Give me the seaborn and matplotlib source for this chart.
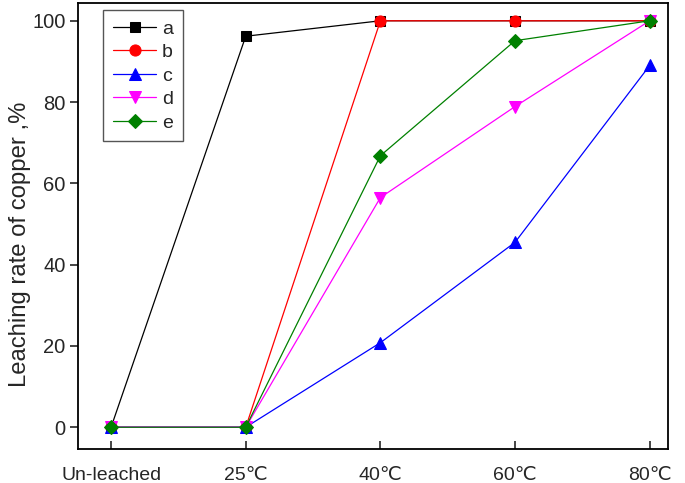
import numpy as np
import pandas as pd
import seaborn as sns
import matplotlib.pyplot as plt

categories = ['Un-leached', '25℃', '40℃', '60℃', '80℃']
series_a = [0, 96.2, 100, 100, 100]
series_b = [0, 0, 100, 100, 100]
series_c = [0, 0, 20.8, 45.5, 89.0]
series_d = [0, 0, 56.5, 78.9, 100]
series_e = [0, 0, 66.8, 95.1, 100]

names = ['a', 'b', 'c', 'd', 'e']
colors = ['black', 'red', 'blue', 'magenta', 'green']
markers = ['s', 'o', '^', 'v', 'D']
msizes = [7, 8, 9, 9, 7]

sns.set_style('white')
plt.rcParams['font.family'] = ['Liberation Sans', 'DejaVu Sans']

df = pd.DataFrame({'a': series_a, 'b': series_b, 'c': series_c,
                   'd': series_d, 'e': series_e})
df['pos'] = np.arange(len(categories))

fig = plt.figure(figsize=(6.85, 4.83), dpi=100)
ax = fig.add_axes([0.114, 0.07, 0.861, 0.924])

for name, c, m, ms in zip(names, colors, markers, msizes):
    sns.lineplot(data=df, x='pos', y=name, color=c, marker=m, markersize=ms,
                 markeredgecolor=c, linewidth=0.9, label=name, ax=ax)

ax.set_xlim(-0.245, 4.135)
ax.set_ylim(-5.4, 104.4)
ax.set_xticks(range(len(categories)))
ax.set_xticklabels(categories)
ax.set_yticks([0, 20, 40, 60, 80, 100])
ax.tick_params(axis='x', bottom=True, direction='in', length=6, width=1.2,
               pad=13, labelsize=14)
ax.tick_params(axis='y', left=True, direction='out', length=6, width=1.2,
               pad=3, labelsize=14.5)
ax.set_xlabel('')
ax.set_ylabel('Leaching rate of copper ,%', fontsize=17.2)
ax.yaxis.set_label_coords(-0.08, 0.46)
for s in ax.spines.values():
    s.set_linewidth(1.3)
    s.set_color('black')

leg = ax.legend(loc='upper left', bbox_to_anchor=(0.043, 0.983), fontsize=14,
                handlelength=2.2, handletextpad=0.3, labelspacing=0.3,
                borderpad=0.5, borderaxespad=0, fancybox=False, framealpha=1)
leg.get_frame().set_edgecolor('#555555')
leg.get_frame().set_linewidth(1.0)

fig.savefig('out.png', dpi=100)
